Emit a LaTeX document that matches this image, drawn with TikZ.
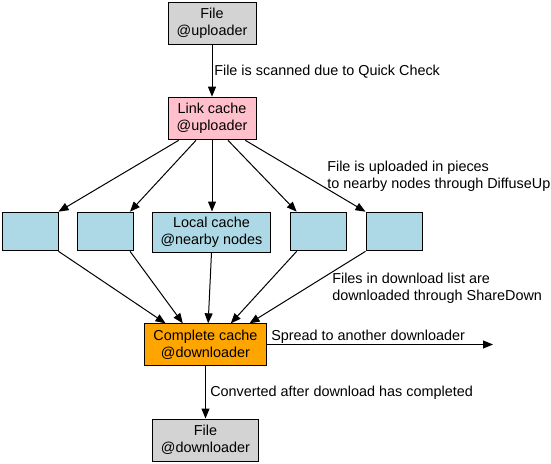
\documentclass[tikz,border=0pt]{standalone}
\usepackage{fontspec}
\setmainfont{Liberation Sans}
\usetikzlibrary{arrows.meta, positioning}
\definecolor{filecol}{RGB}{211,211,211}
\definecolor{linkcol}{RGB}{255,192,203}
\definecolor{localcol}{RGB}{173,216,230}
\definecolor{donecol}{RGB}{255,165,0}

\begin{document}
\begin{tikzpicture}[x=0.75pt, y=-0.75pt,
    box/.style={draw, line width=0.75pt, align=center, inner sep=0pt,
                font=\fontsize{10.8}{12.8}\selectfont},
    flow/.style={-{Triangle[length=7.5pt, width=6pt]}, line width=0.75pt},
    note/.style={anchor=west, align=left, inner sep=0pt,
                 font=\fontsize{10.8}{12.8}\selectfont}]
  \useasboundingbox (0,0) rectangle (551,464);

  % Uploader side
  \node[box, fill=filecol, minimum width=66pt, minimum height=31.5pt]
    (fileup) at (212, 23) {File\\@uploader};
  \node[box, fill=linkcol, minimum width=66pt, minimum height=32pt]
    (link) at (212, 118.5) {Link cache\\@uploader};

  % Nearby nodes (local caches)
  \foreach \n/\x in {b1/30, b2/105.5, b4/318.5, b5/394} {
    \node[box, fill=localcol, minimum width=42pt, minimum height=29pt]
      (\n) at (\x, 231.5) {};
  }
  \node[box, fill=localcol, minimum width=89pt, minimum height=30pt]
    (local) at (211.5, 232) {Local cache\\@nearby nodes};

  % Downloader side
  \node[box, fill=donecol, minimum width=91pt, minimum height=31pt]
    (done) at (205.5, 344.5) {Complete cache\\@downloader};
  \node[box, fill=filecol, minimum width=79pt, minimum height=31.5pt]
    (filedown) at (205.5, 440) {File\\@downloader};
  \coordinate (spread) at (493, 344.5);

  % Edges
  \draw[flow] (fileup) -- (link);
  \draw[flow] ([xshift=-25pt]link.south) -- (b1.north east);
  \draw[flow] ([xshift=-12pt]link.south) -- ([xshift=-3pt]b2.north east);
  \draw[flow] (link.south) -- (local.north -| link.south);
  \draw[flow] ([xshift=12pt]link.south) -- ([xshift=5pt]b4.north west);
  \draw[flow] ([xshift=25pt]link.south) -- (b5.north west);

  \draw[flow] (b1.south east) -- ([xshift=-30pt]done.north);
  \draw[flow] ([xshift=-3pt]b2.south east) -- ([xshift=-17pt]done.north);
  \draw[flow] (local.south) -- ([xshift=2pt]done.north);
  \draw[flow] ([xshift=5pt]b4.south west) -- ([xshift=19pt]done.north);
  \draw[flow] (b5.south west) -- ([xshift=33pt]done.north);

  \draw[flow] (done) -- (spread);
  \draw[flow] (done) -- (filedown);

  % Annotations
  \node[note] (lscan) at (214, 72) {File is scanned due to Quick Check};
  \node[note] (lup) at (327, 176.5)
    {File is uploaded in pieces\\to nearby nodes through DiffuseUp};
  \node[note] (ldown) at (332, 288.5)
    {Files in download list are\\downloaded through ShareDown};
  \node[note] (lspread) at (271, 337) {Spread to another downloader};
  \node[note] (lconv) at (210, 393) {Converted after download has completed};

\end{tikzpicture}
\end{document}
